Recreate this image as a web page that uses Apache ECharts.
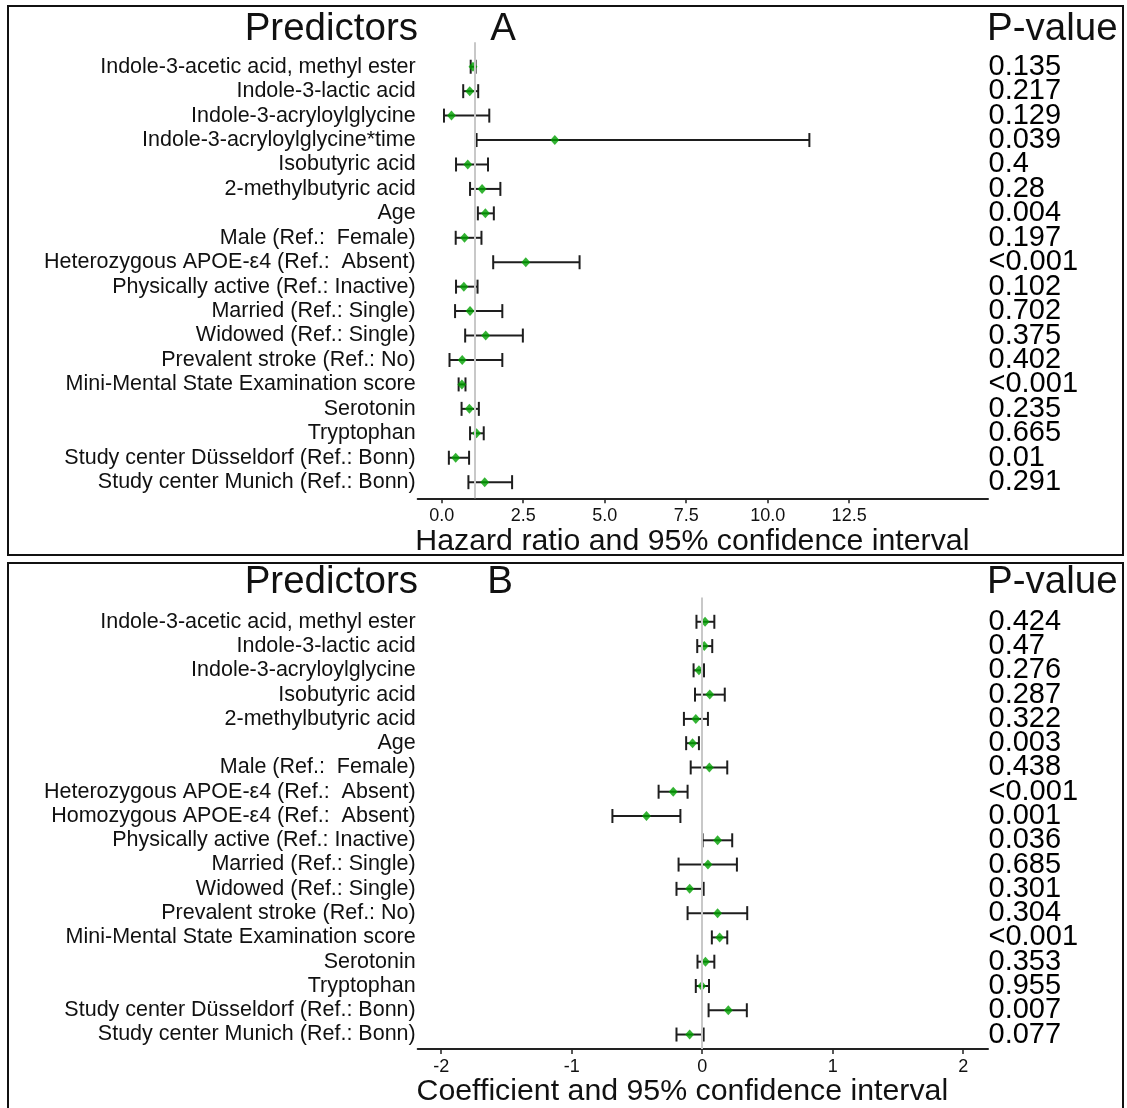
<!DOCTYPE html>
<html>
<head>
<meta charset="utf-8">
<script src="https://cdn.jsdelivr.net/npm/echarts@6/dist/echarts.min.js"></script>
<style>
html,body{margin:0;padding:0;background:#fff;}
#chart{width:1127px;height:1108px;}
</style>
</head>
<body>
<div id="chart"></div>
<script>
// ---------- Panel A: Hazard ratios ----------
const predictorsA = [
  "Indole-3-acetic acid, methyl ester",
  "Indole-3-lactic acid",
  "Indole-3-acryloylglycine",
  "Indole-3-acryloylglycine*time",
  "Isobutyric acid",
  "2-methylbutyric acid",
  "Age",
  "Male (Ref.:  Female)",
  "Heterozygous APOE-\u03b54 (Ref.:  Absent)",
  "Physically active (Ref.: Inactive)",
  "Married (Ref.: Single)",
  "Widowed (Ref.: Single)",
  "Prevalent stroke (Ref.: No)",
  "Mini-Mental State Examination score",
  "Serotonin",
  "Tryptophan",
  "Study center D\u00fcsseldorf (Ref.: Bonn)",
  "Study center Munich (Ref.: Bonn)"
];
const hrA   = [0.96, 0.86, 0.30, 3.47, 0.80, 1.24, 1.34, 0.70, 2.58, 0.68, 0.87, 1.35, 0.63, 0.62, 0.85, 1.07, 0.43, 1.32];
const lowA  = [0.89, 0.66, 0.07, 1.07, 0.44, 0.87, 1.11, 0.43, 1.58, 0.44, 0.41, 0.72, 0.24, 0.52, 0.61, 0.87, 0.22, 0.82];
const highA = [1.04, 1.12, 1.46, 11.28, 1.42, 1.80, 1.60, 1.22, 4.23, 1.10, 1.86, 2.49, 1.86, 0.73, 1.14, 1.29, 0.84, 2.16];
const pA    = ["0.135","0.217","0.129","0.039","0.4","0.28","0.004","0.197","<0.001","0.102","0.702","0.375","0.402","<0.001","0.235","0.665","0.01","0.291"];
const ticksA = [0, 2.5, 5, 7.5, 10, 12.5];

// ---------- Panel B: Coefficients ----------
const predictorsB = [
  "Indole-3-acetic acid, methyl ester",
  "Indole-3-lactic acid",
  "Indole-3-acryloylglycine",
  "Isobutyric acid",
  "2-methylbutyric acid",
  "Age",
  "Male (Ref.:  Female)",
  "Heterozygous APOE-\u03b54 (Ref.:  Absent)",
  "Homozygous APOE-\u03b54 (Ref.:  Absent)",
  "Physically active (Ref.: Inactive)",
  "Married (Ref.: Single)",
  "Widowed (Ref.: Single)",
  "Prevalent stroke (Ref.: No)",
  "Mini-Mental State Examination score",
  "Serotonin",
  "Tryptophan",
  "Study center D\u00fcsseldorf (Ref.: Bonn)",
  "Study center Munich (Ref.: Bonn)"
];
const coefB = [0.022, 0.016, -0.025, 0.058, -0.049, -0.074, 0.055, -0.222, -0.427, 0.118, 0.044, -0.096, 0.118, 0.134, 0.025, -0.003, 0.200, -0.096];
const lowB  = [-0.044, -0.038, -0.066, -0.055, -0.140, -0.123, -0.088, -0.334, -0.688, 0.003, -0.181, -0.197, -0.112, 0.074, -0.036, -0.049, 0.049, -0.197];
const highB = [0.093, 0.077, 0.014, 0.173, 0.044, -0.025, 0.192, -0.112, -0.167, 0.230, 0.266, 0.011, 0.345, 0.192, 0.093, 0.052, 0.342, 0.011];
const pB    = ["0.424","0.47","0.276","0.287","0.322","0.003","0.438","<0.001","0.001","0.036","0.685","0.301","0.304","<0.001","0.353","0.955","0.007","0.077"];
const ticksB = [-2, -1, 0, 1, 2];

const FONT = "'Liberation Sans', Arial, Helvetica, sans-serif";
const rowsIdx = predictorsA.map((_, i) => i + 1);

const X_A = [-0.736, 16.76];
const X_B = [-2.18, 2.19];

function ciData(lo, hi) { return lo.map((l, i) => [l, hi[i], i + 1]); }
function ptData(v) { return v.map((x, i) => [x, i + 1]); }
// p-value text anchored at the right end of the x axis, on each row
function pData(p, xmax) { return p.map((s, i) => [xmax, i + 1, s]); }

function renderCI(params, api) {
  const a = api.coord([api.value(0), api.value(2)]);
  const b = api.coord([api.value(1), api.value(2)]);
  const h = 7;
  const st = { stroke: '#1e1e1e', lineWidth: 2, fill: null };
  return {
    type: 'group',
    children: [
      { type: 'line', shape: { x1: a[0], y1: a[1], x2: b[0], y2: b[1] }, style: st },
      { type: 'line', shape: { x1: a[0], y1: a[1] - h, x2: a[0], y2: a[1] + h }, style: st },
      { type: 'line', shape: { x1: b[0], y1: b[1] - h, x2: b[0], y2: b[1] + h }, style: st }
    ]
  };
}

function yAxis(gridIndex, ymax, names) {
  return {
    type: 'value', gridIndex, inverse: true, min: 0, max: ymax, position: 'left',
    axisLine: { show: false }, axisTick: { show: false }, splitLine: { show: false },
    axisLabel: {
      customValues: rowsIdx, margin: 2, fontFamily: FONT, fontSize: 21.5, color: '#111',
      showMinLabel: true, showMaxLabel: true,
      formatter: v => names[Math.round(v) - 1] || ''
    }
  };
}

function xAxis(gridIndex, range, ticks, fmt, name, gap, padRight) {
  return {
    type: 'value', gridIndex, min: range[0], max: range[1], position: 'bottom',
    name, nameLocation: 'middle', nameGap: gap,
    nameTextStyle: { fontFamily: FONT, fontSize: 30.3, color: '#111', padding: [0, padRight, 0, 0] },
    axisLine: { show: true, onZero: false, lineStyle: { color: '#222', width: 2 } },
    axisTick: { show: true, customValues: ticks, length: 5, lineStyle: { color: '#222', width: 1.5 } },
    axisLabel: { customValues: ticks, formatter: fmt, margin: 9, fontFamily: FONT, fontSize: 18, color: '#111',
      showMinLabel: true, showMaxLabel: true },
    splitLine: { show: false }
  };
}

function pSeries(xi, yi, p, xmax) {
  return {
    type: 'scatter', xAxisIndex: xi, yAxisIndex: yi, clip: false, silent: true,
    symbolSize: 1, itemStyle: { color: '#ffffff', opacity: 1 },
    data: pData(p, xmax), z: 5,
    label: {
      show: true, position: 'right', distance: 0, offset: [0, -1.5],
      formatter: d => d.data[2], opacity: 1,
      fontFamily: FONT, fontSize: 29, color: '#000', textBorderWidth: 0
    },
    emphasis: { disabled: true },
    labelLayout: { hideOverlap: false }
  };
}

const option = {
  backgroundColor: '#fff',
  animation: false,
  grid: [
    { left: 417.7, right: 139, top: 42.3, height: 456 },
    { left: 417.7, right: 139, top: 597.5, height: 455.2 }
  ],
  xAxis: [
    xAxis(0, X_A, ticksA, v => v.toFixed(1), 'Hazard ratio and 95% confidence interval', 26, 21),
    xAxis(1, X_B, ticksB, v => String(v), 'Coefficient and 95% confidence interval', 26, 41)
  ],
  yAxis: [yAxis(0, 18.66, predictorsA), yAxis(1, 18.6, predictorsB)],
  graphic: [
    { type: 'rect', shape: { x: 8, y: 6, width: 1115, height: 549 }, style: { fill: null, stroke: '#111', lineWidth: 2 }, z: 0 },
    { type: 'rect', shape: { x: 8, y: 563, width: 1115, height: 560 }, style: { fill: null, stroke: '#111', lineWidth: 2 }, z: 0 },
    { type: 'text', style: { text: 'Predictors', x: 418, y: 29, textAlign: 'right', textVerticalAlign: 'middle', font: '38.5px ' + FONT, fill: '#111' } },
    { type: 'text', style: { text: 'A', x: 503, y: 29, textAlign: 'center', textVerticalAlign: 'middle', font: '38.5px ' + FONT, fill: '#111' } },
    { type: 'text', style: { text: 'P-value', x: 987, y: 29, textAlign: 'left', textVerticalAlign: 'middle', font: '38.5px ' + FONT, fill: '#111' } },
    { type: 'text', style: { text: 'Predictors', x: 418, y: 582, textAlign: 'right', textVerticalAlign: 'middle', font: '38.5px ' + FONT, fill: '#111' } },
    { type: 'text', style: { text: 'B', x: 500, y: 582, textAlign: 'center', textVerticalAlign: 'middle', font: '38.5px ' + FONT, fill: '#111' } },
    { type: 'text', style: { text: 'P-value', x: 987, y: 582, textAlign: 'left', textVerticalAlign: 'middle', font: '38.5px ' + FONT, fill: '#111' } }
  ],
  series: [
    {
      type: 'line', xAxisIndex: 0, yAxisIndex: 0, data: [], z: 1,
      markLine: { silent: true, symbol: 'none', label: { show: false },
        lineStyle: { color: '#c8c8c8', width: 2, type: 'solid' }, data: [{ xAxis: 1 }] }
    },
    { type: 'custom', xAxisIndex: 0, yAxisIndex: 0, renderItem: renderCI, data: ciData(lowA, highA), z: 3 },
    { type: 'scatter', xAxisIndex: 0, yAxisIndex: 0, symbol: 'diamond', symbolSize: [9, 10],
      itemStyle: { color: '#00a000' }, data: ptData(hrA), z: 4 },
    pSeries(0, 0, pA, X_A[1]),
    {
      type: 'line', xAxisIndex: 1, yAxisIndex: 1, data: [], z: 1,
      markLine: { silent: true, symbol: 'none', label: { show: false },
        lineStyle: { color: '#c8c8c8', width: 2, type: 'solid' }, data: [{ xAxis: 0 }] }
    },
    { type: 'custom', xAxisIndex: 1, yAxisIndex: 1, renderItem: renderCI, data: ciData(lowB, highB), z: 3 },
    { type: 'scatter', xAxisIndex: 1, yAxisIndex: 1, symbol: 'diamond', symbolSize: [9, 10],
      itemStyle: { color: '#00a000' }, data: ptData(coefB), z: 4 },
    pSeries(1, 1, pB, X_B[1])
  ]
};

const chart = echarts.init(document.getElementById('chart'), null, { renderer: 'canvas' });
chart.setOption(option);
</script>
</body>
</html>
